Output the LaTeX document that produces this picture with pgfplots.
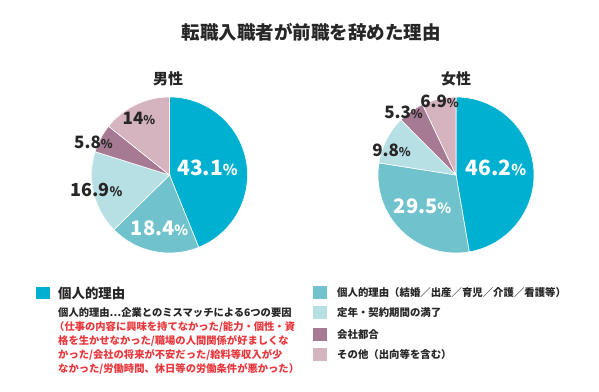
\documentclass[border=0pt]{standalone}
\usepackage{fontspec}
\setmainfont{Noto Sans CJK JP}
\usepackage{pgfplots}
\usepackage{pgfplotstable}
\pgfplotsset{compat=1.18}
\definecolor{slice0}{HTML}{00B0D0}
\definecolor{slice1}{HTML}{70C3CC}
\definecolor{slice2}{HTML}{B7E0E4}
\definecolor{slice3}{HTML}{A77A93}
\definecolor{slice4}{HTML}{D5B3BF}
\definecolor{dark}{HTML}{262626}
\definecolor{redtxt}{HTML}{E8383D}

\pgfplotstableread{
v
43.1
18.4
16.9
5.8
14
}\maletbl
\pgfplotstableread{
v
46.2
29.5
9.8
5.3
6.9
}\femaletbl

\newcommand\drawpie[1]{%
  \def\total{0}%
  \pgfplotsforeachungrouped \i in {0,...,4}{%
    \pgfplotstablegetelem{\i}{v}\of#1%
    \pgfmathsetmacro\total{\total+\pgfplotsretval}%
  }%
  \def\cum{0}%
  \pgfplotsforeachungrouped \i in {0,...,4}{%
    \pgfplotstablegetelem{\i}{v}\of#1%
    \pgfmathsetmacro\a{90-360*(\cum/\total)}%
    \pgfmathsetmacro\newcum{\cum+\pgfplotsretval}%
    \pgfmathsetmacro\b{90-360*(\newcum/\total)}%
    \let\cum\newcum
    \edef\temp{\noexpand\fill[fill=slice\i, draw=white, line width=0.6pt] (axis cs:0,0) -- (axis cs:{cos(\a)},{sin(\a)}) arc[start angle=\a, end angle=\b, radius=78pt] -- cycle;}%
    \temp
  }%
}

\newcommand\pct[3]{{\fontsize{#1}{#1}\selectfont #3{\fontsize{#2}{#2}\selectfont\%}}}

\begin{document}
\begin{tikzpicture}
\path[use as bounding box, fill=white] (0,0) rectangle (599pt,-391pt);

\node[font=\bfseries\fontsize{18.5}{18.5}\selectfont, text=dark, inner sep=0] at (311pt,-32pt) {転職入職者が前職を辞めた理由};

\begin{axis}[at={(169.5pt,-175pt)}, anchor=center, scale only axis, width=156pt, height=156pt,
  xmin=-1, xmax=1, ymin=-1, ymax=1, hide axis]
\drawpie{\maletbl}
\end{axis}
\begin{axis}[at={(456pt,-175pt)}, anchor=center, scale only axis, width=156pt, height=156pt,
  xmin=-1, xmax=1, ymin=-1, ymax=1, hide axis]
\drawpie{\femaletbl}
\end{axis}

\node[font=\bfseries\fontsize{15}{15}\selectfont, text=dark, inner sep=0] at (168pt,-79pt) {男性};
\node[font=\bfseries\fontsize{15}{15}\selectfont, text=dark, inner sep=0] at (456pt,-79pt) {女性};

% male labels
\node[text=white, font=\bfseries, inner sep=0] at (207.5pt,-167.5pt) {\pct{21}{15}{43.1}};
\node[text=white, font=\bfseries, inner sep=0] at (159.5pt,-228pt) {\pct{20}{14}{18.4}};
\node[text=dark, font=\bfseries, inner sep=0] at (96.5pt,-190pt) {\pct{18}{13}{16.9}};
\node[text=dark, font=\bfseries, inner sep=0] at (93.5pt,-142pt) {\pct{17}{12}{5.8}};
\node[text=dark, font=\bfseries, inner sep=0] at (139pt,-118pt) {\pct{17}{12}{14}};
% female labels
\node[text=white, font=\bfseries, inner sep=0] at (496pt,-167.5pt) {\pct{21}{15}{46.2}};
\node[text=white, font=\bfseries, inner sep=0] at (422.5pt,-206pt) {\pct{20}{14}{29.5}};
\node[text=dark, font=\bfseries, inner sep=0] at (391.5pt,-150pt) {\pct{17}{12}{9.8}};
\node[text=dark, font=\bfseries, inner sep=0] at (403.5pt,-112.5pt) {\pct{17}{12}{5.3}};
\node[text=dark, font=\bfseries, inner sep=0] at (439.5pt,-101pt) {\pct{17}{12}{6.9}};

% left legend
\fill[slice0] (36pt,-287pt) rectangle (50pt,-299pt);
\node[anchor=west, font=\bfseries\fontsize{13.4}{13.4}\selectfont, text=dark, inner sep=0] at (58pt,-293pt) {個人的理由};
\begin{scope}[every node/.style={anchor=west, inner sep=0, font=\bfseries\fontsize{10.3}{10.3}\selectfont}]
\node[text=dark] at (58pt,-313pt) {個人的理由…企業とのミスマッチによる6つの要因};
\node[text=redtxt] at (54pt,-327pt) {（仕事の内容に興味を持てなかった/能力・個性・資};
\node[text=redtxt] at (58pt,-341pt) {格を生かせなかった/職場の人間関係が好ましくな};
\node[text=redtxt] at (58pt,-355pt) {かった/会社の将来が不安だった/給料等収入が少};
\node[text=redtxt] at (58pt,-369pt) {なかった/労働時間、休日等の労働条件が悪かった）};
\end{scope}

% right legend
\fill[slice1] (313pt,-286pt) rectangle (327pt,-299pt);
\fill[slice2] (313pt,-306pt) rectangle (327pt,-319pt);
\fill[slice3] (313pt,-328pt) rectangle (327pt,-341pt);
\fill[slice4] (313pt,-348pt) rectangle (327pt,-361pt);
\begin{scope}[every node/.style={anchor=west, inner sep=0, text=dark, font=\bfseries\fontsize{10.4}{10.4}\selectfont}]
\node at (337pt,-292.5pt) {個人的理由（結婚／出産／育児／介護／看護等）};
\node at (337pt,-312.5pt) {定年・契約期間の満了};
\node at (337pt,-334.5pt) {会社都合};
\node at (337pt,-354.5pt) {その他（出向等を含む）};
\end{scope}
\end{tikzpicture}
\end{document}
